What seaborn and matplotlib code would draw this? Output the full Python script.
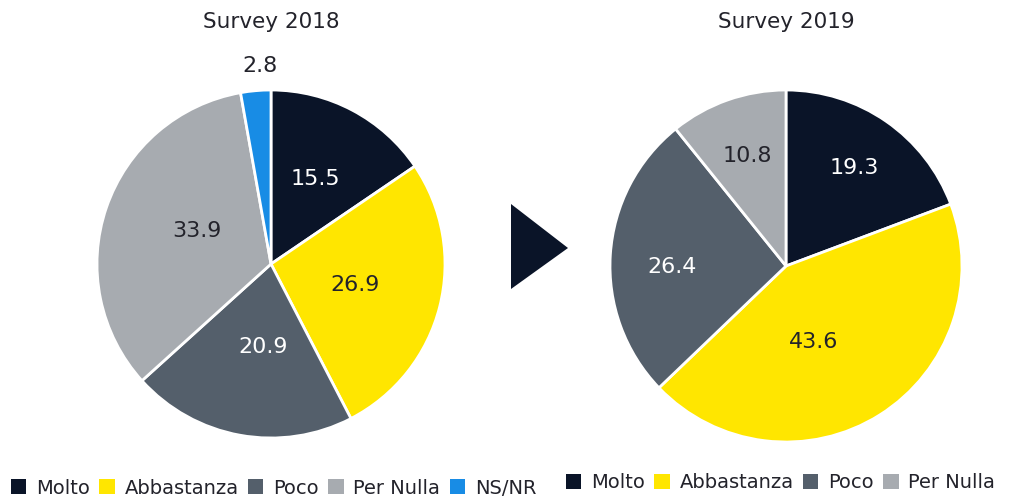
import matplotlib
matplotlib.use("Agg")
import matplotlib.pyplot as plt
from matplotlib.patches import Patch, Polygon
import seaborn as sns
import numpy as np

# ---- data ----
categories_2018 = ["Molto", "Abbastanza", "Poco", "Per Nulla", "NS/NR"]
values_2018 = [15.5, 26.9, 20.9, 33.9, 2.8]
categories_2019 = ["Molto", "Abbastanza", "Poco", "Per Nulla"]
values_2019 = [19.3, 43.6, 26.4, 10.8]
titles = ["Survey 2018", "Survey 2019"]

# ---- style ----
sns.set_theme(style="white")
plt.rcParams['font.family'] = ['DejaVu Sans']
palette = {
    "Molto": "#0a1428",
    "Abbastanza": "#ffe600",
    "Poco": "#545f6b",
    "Per Nulla": "#a7abb0",
    "NS/NR": "#188ce5",
}
label_colors = {
    "Molto": "white",
    "Abbastanza": "#23232b",
    "Poco": "white",
    "Per Nulla": "#23232b",
    "NS/NR": "#23232b",
}
text_color = "#23232b"

W, H = 1009, 497
fig = plt.figure(figsize=(W / 100, H / 100), dpi=100)


def px_axes(cx, cy, r):
    return fig.add_axes([(cx - r) / W, 1 - (cy + r) / H, 2 * r / W, 2 * r / H])


def draw_pie(ax, cats, vals, dists, title, title_y):
    colors = [palette[c] for c in cats]
    wedges, _ = ax.pie(vals, colors=colors, startangle=90, counterclock=False,
                       wedgeprops=dict(edgecolor="white", linewidth=2))
    ax.set_aspect("equal")
    ax.set_xlim(-1, 1)
    ax.set_ylim(-1, 1)
    for w, c, v, (d, off) in zip(wedges, cats, vals, dists):
        ang = np.deg2rad((w.theta1 + w.theta2) / 2 + off)
        ax.text(d * np.cos(ang), d * np.sin(ang), f"{v:.1f}",
                ha="center", va="center", fontsize=16,
                color=label_colors[c] if d < 1 else text_color)
    ax.text(0, title_y, title, ha="center", va="center", fontsize=15.5,
            color=text_color, transform=ax.transData, clip_on=False)


ax1 = px_axes(271, 264, 174)
draw_pie(ax1, categories_2018, values_2018,
         [(0.55, 0), (0.5, 0), (0.48, 5), (0.466, -5), (1.14, -2)],
         titles[0], (264 - 22) / 174)

ax2 = px_axes(786, 266, 176)
draw_pie(ax2, categories_2019, values_2019,
         [(0.68, 0), (0.46, -12), (0.65, 4), (0.66, 0)],
         titles[1], (266 - 22) / 176)

# arrow triangle
tri = Polygon([(511 / W, 1 - 204 / H), (568 / W, 1 - 248 / H), (511 / W, 1 - 289 / H)],
              closed=True, transform=fig.transFigure, facecolor="#0a1428",
              edgecolor="none")
fig.patches.append(tri)


def add_legend(cats, x, y):
    handles = [Patch(facecolor=palette[c], edgecolor="none", label=c) for c in cats]
    leg = fig.legend(handles=handles, loc="center left", bbox_to_anchor=(x / W, 1 - y / H),
                     ncol=len(cats), frameon=False, fontsize=14,
                     handlelength=0.78, handleheight=0.78, handletextpad=0.5,
                     columnspacing=0.5, borderpad=0, borderaxespad=0)
    for t in leg.get_texts():
        t.set_color(text_color)
    return leg


add_legend(categories_2018, 11, 488)
add_legend(categories_2019, 566, 483)

fig.savefig("out.png", dpi=100, facecolor="white")
